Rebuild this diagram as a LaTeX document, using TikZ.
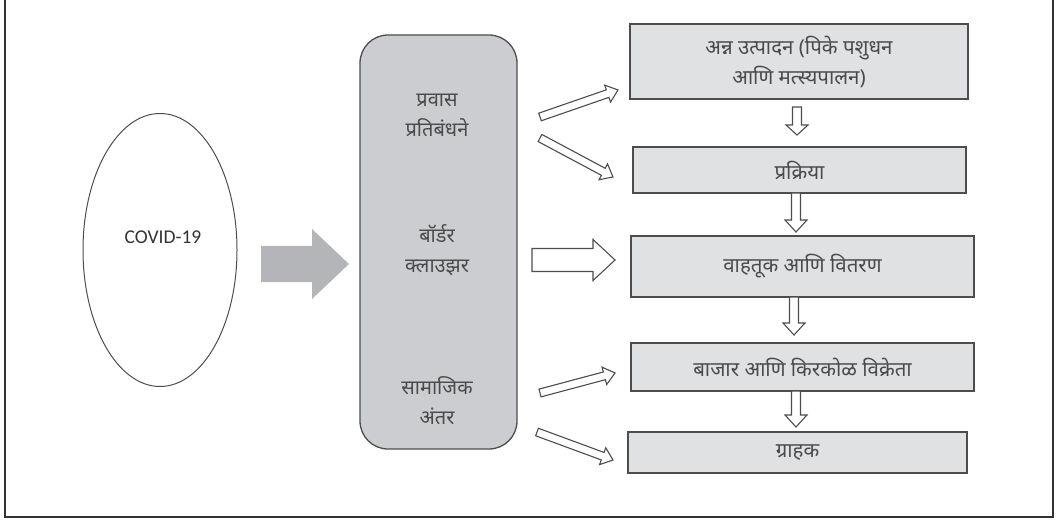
\documentclass[tikz,border=0pt]{standalone}
\usepackage{fontspec}
\newfontfamily\deva[Script=Devanagari]{Noto Sans}
\newfontfamily\latn{Carlito}
\usetikzlibrary{calc,shapes.geometric}
\definecolor{frame}{HTML}{333333}
\definecolor{edge}{HTML}{4D4D4D}
\definecolor{boxfill}{HTML}{DFE1E3}
\definecolor{panelfill}{HTML}{CBCDD0}
\definecolor{bigarrow}{HTML}{B3B5B8}
\definecolor{txt}{HTML}{4A4A4A}
\newcommand\blockarrow[6][]{%
  \draw[#1] let \p1=($(#3)-(#2)$), \n1={veclen(\x1,\y1)}, \n2={atan2(\y1,\x1)} in
    [shift={(#2)}, rotate=\n2] (0pt,-#4) -- ({\n1-#6},-#4) -- ({\n1-#6},-#5) -- (\n1,0pt)
    -- ({\n1-#6},#5) -- ({\n1-#6},#4) -- (0pt,#4) -- cycle;}
\begin{document}
\begin{tikzpicture}[x=1pt,y=-1pt,
  flowbox/.style={draw=edge, line width=1.3pt, fill=boxfill, rectangle, inner sep=0pt,
    text=txt, font=\deva\fontsize{20.5}{30}\selectfont, align=center},
  paneltext/.style={text=txt, font=\deva\fontsize{20}{30}\selectfont, align=center},
  hollow/.style={draw=edge, line width=1.1pt, fill=white, line join=miter},
  solidarrow/.style={fill=bigarrow, draw=none}]
\useasboundingbox (0,0) rectangle (1059,521);
% frame (top edge cut off)
\draw[frame, line width=2pt] (5,0) -- (5,517) -- (1053,517) -- (1053,0);
% COVID ellipse
\node[draw=edge, line width=1pt, ellipse, minimum width=154pt, minimum height=273pt,
  inner sep=0pt] (covid) at (160,250) {};
\node[font=\latn\fontsize{19.5}{22}\selectfont, text=black!80] (covidtxt) at (163,237) {COVID-19};
% panel
\node[draw=edge, line width=1.3pt, fill=panelfill, rounded corners=28pt,
  minimum width=157pt, minimum height=414pt, inner sep=0pt] (panel) at (438.5,242) {};
\node[paneltext] (p1) at (437,115) {प्रवास\\प्रतिबंधने};
\node[paneltext] (p2) at (437,250) {बॉर्डर\\क्लाउझर};
\node[paneltext] (p3) at (437,401) {सामाजिक\\अंतर};
% right flow boxes
\node[flowbox, minimum width=338pt, minimum height=75pt] (b1) at (799,61.5) {अन्न उत्पादन (पिके पशुधन\\आणि मत्स्यपालन)};
\node[flowbox, minimum width=333pt, minimum height=46pt] (b2) at (799.5,170) {प्रक्रिया};
\node[flowbox, minimum width=343pt, minimum height=61pt] (b3) at (802.5,266.5) {वाहतूक आणि वितरण};
\node[flowbox, minimum width=343pt, minimum height=48pt] (b4) at (802.5,367) {बाजार आणि किरकोळ विक्रेता};
\node[flowbox, minimum width=339pt, minimum height=41pt] (b5) at (797.5,452.5) {ग्राहक};
% big grey arrow
\coordinate (ga1) at (261,264);
\coordinate (ga2) at (349,264);
\blockarrow[solidarrow]{ga1}{ga2}{18pt}{35pt}{37pt}
% arrows from panel
\coordinate (a1s) at (540,117); \coordinate (a1e) at (618,90);
\coordinate (a2s) at (540,138); \coordinate (a2e) at (613,177);
\coordinate (a3s) at (532,260); \coordinate (a3e) at (615,260);
\coordinate (a4s) at (540,393); \coordinate (a4e) at (615,373);
\coordinate (a5s) at (537,432); \coordinate (a5e) at (613,460);
\blockarrow[hollow]{a1s}{a1e}{4pt}{9pt}{11pt}
\blockarrow[hollow]{a2s}{a2e}{4pt}{9pt}{11pt}
\blockarrow[hollow]{a3s}{a3e}{11.5pt}{20.5pt}{22pt}
\blockarrow[hollow]{a4s}{a4e}{4pt}{9pt}{11pt}
\blockarrow[hollow]{a5s}{a5e}{4pt}{9pt}{11pt}
% down arrows between boxes
\coordinate (d1s) at (797,107); \coordinate (d1e) at (797,135);
\coordinate (d2s) at (796,193); \coordinate (d2e) at (796,232);
\coordinate (d3s) at (794,297); \coordinate (d3e) at (794,335);
\coordinate (d4s) at (796,391); \coordinate (d4e) at (796,427);
\blockarrow[hollow]{d1s}{d1e}{4.5pt}{11pt}{10pt}
\blockarrow[hollow]{d2s}{d2e}{4.5pt}{11pt}{12pt}
\blockarrow[hollow]{d3s}{d3e}{4.5pt}{11pt}{12pt}
\blockarrow[hollow]{d4s}{d4e}{4.5pt}{11pt}{12pt}
\end{tikzpicture}
\end{document}
